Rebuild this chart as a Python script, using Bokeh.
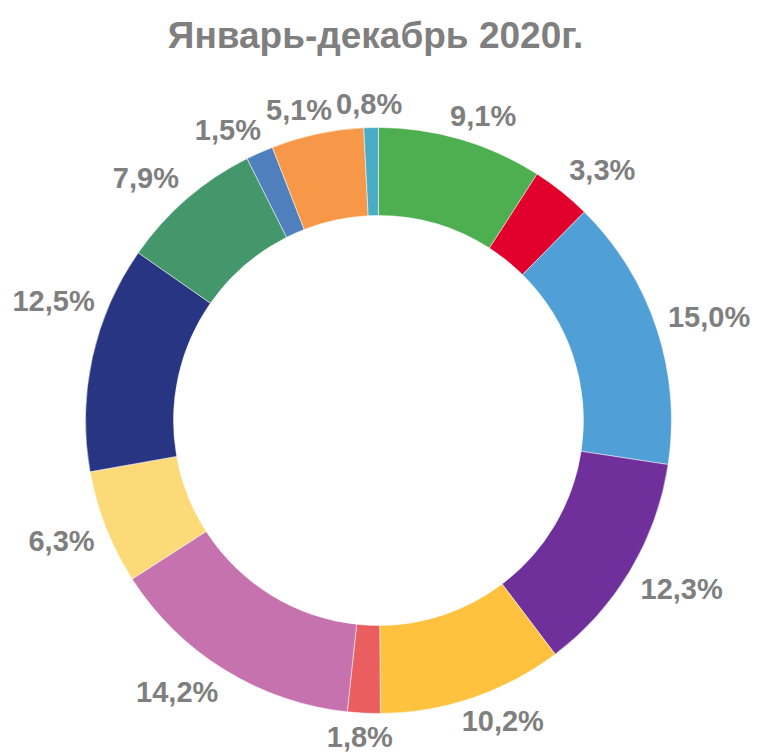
import numpy as np
from bokeh.plotting import figure
from bokeh.models import ColumnDataSource, Range1d, Label
from bokeh.core.properties import value
from bokeh.embed import file_html
from bokeh.resources import INLINE

# ---- data ----
shares = [9.1, 3.3, 15.0, 12.3, 10.2, 1.8, 14.2, 6.3, 12.5, 7.9, 1.5, 5.1, 0.8]
labels = ["9,1%", "3,3%", "15,0%", "12,3%", "10,2%", "1,8%", "14,2%",
          "6,3%", "12,5%", "7,9%", "1,5%", "5,1%", "0,8%"]
colors = ["#4EAF51", "#E0002B", "#519FD7", "#70309B", "#FFC23F", "#EA5E5F",
          "#C672AE", "#FCDA78", "#283583", "#43976A", "#4F7FBD", "#F69847",
          "#4BACC6"]
title_text = "Январь-декабрь 2020г."

# ---- geometry (screen pixels, y measured downward for label layout) ----
W, H = 762, 754
cx, cy_img = 378, 420
cy = H - cy_img
R_OUT, R_IN = 293, 205
FS = 29
GAP = 12
EDGE = 12
TEXT_COLOR = "#7F7F7F"

vals = np.array(shares, dtype=float)
frac = vals / vals.sum()
cum_end = np.cumsum(frac)
cum_start = cum_end - frac
start_angle = np.pi / 2 - cum_start * 2 * np.pi
end_angle = np.pi / 2 - cum_end * 2 * np.pi

mid = (cum_start + cum_end) / 2 * 2 * np.pi  # clockwise from top
h2 = 12
lx, ly, lw = [], [], []
for m, t in zip(mid, labels):
    ndig = sum(ch.isdigit() for ch in t)
    w = FS * (0.556 * ndig + 0.278 + 0.889)
    s, c = np.sin(m), -np.cos(m)          # image direction (y down)
    px = cx + (R_OUT + GAP) * s
    py = cy_img + (R_OUT + GAP) * c
    x = px + (w / 2) * np.clip(2 * s, -1, 1)
    y = py + h2 * np.clip(2 * c, -1, 1)
    # keep labels inside the chart area: slide along the circle if needed
    if x - w / 2 < EDGE or x + w / 2 > W - EDGE:
        rr = np.hypot(x - cx, y - cy_img)
        x = min(max(x, EDGE + w / 2), W - EDGE - w / 2)
        dx = x - cx
        y = cy_img + np.sign(y - cy_img) * np.sqrt(max(rr ** 2 - dx ** 2, 0))
    y = min(y, H - 6 - h2)
    lx.append(x)
    ly.append(y)
    lw.append(w)

# simple collision avoidance for crowded labels in the upper-left
n = len(labels)
for i in range(n - 2, -1, -1):
    j = i + 1
    if np.sin(mid[i]) < 0 and np.cos(mid[i]) > 0:
        if abs(ly[i] - ly[j]) < 2 * h2:
            need = (lw[i] + lw[j]) / 2 + 4
            if lx[j] - lx[i] < need:
                lx[i] = lx[j] - need

ly_data = [H - v for v in ly]

src = ColumnDataSource(dict(start=start_angle, end=end_angle, color=colors))
lsrc = ColumnDataSource(dict(x=lx, y=ly_data, text=labels))

p = figure(width=W, height=H, output_backend="svg", toolbar_location=None,
           x_range=Range1d(0, W), y_range=Range1d(0, H),
           min_border=0, outline_line_color=None)
p.axis.visible = False
p.grid.visible = False
p.background_fill_color = "white"

p.annular_wedge(x=cx, y=cy, inner_radius=R_IN, outer_radius=R_OUT,
                start_angle="start", end_angle="end", direction="clock",
                fill_color="color", line_color="white", line_width=0.5,
                source=src)

p.text(x="x", y="y", text="text", source=lsrc, text_align="center",
       text_baseline="middle", text_font=value("Liberation Sans"),
       text_font_style="bold", text_font_size=f"{FS}px", text_color=TEXT_COLOR)

p.add_layout(Label(x=375, y=H - 35, text=title_text, text_align="center",
                   text_baseline="middle", text_font="Liberation Sans",
                   text_font_style="bold", text_font_size="37px",
                   text_color=TEXT_COLOR))

open("out.html", "w").write(file_html(p, INLINE))
